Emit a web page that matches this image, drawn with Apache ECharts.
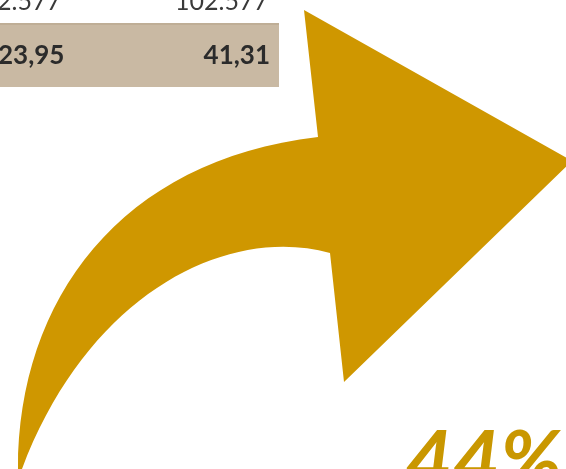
<!DOCTYPE html>
<html>
<head>
<meta charset="utf-8">
<script src="https://cdn.jsdelivr.net/npm/echarts@6/dist/echarts.min.js"></script>
<style>html,body{margin:0;padding:0;background:#fff}#c{width:566px;height:469px}</style>
</head>
<body>
<div id="c"></div>
<script>
// Table fragment values
const rowTopValues = ['2.577', '102.577'];
const rowTotalValues = ['23,95', '41,31'];
const headline = '44%';

const chart = echarts.init(document.getElementById('c'), null, {renderer: 'canvas'});
const gold = '#CF9700';
const arrowPath = 'M18 469 C18 300 120 160 318 137 L304 10 L572 161 L344 382 L330 253 C230 225 90 290 22 469 Z';
const option = {
  backgroundColor: '#ffffff',
  animation: false,
  graphic: [
    {type: 'rect', shape: {x: 0, y: 23, width: 279, height: 64}, style: {fill: '#C9B9A3'}},
    {type: 'rect', shape: {x: 0, y: 23, width: 279, height: 2}, style: {fill: '#BFAE96'}},
    {type: 'text', x: -3, y: 14, style: {text: rowTopValues[0], font: '25px Lato', fill: '#3a3a3a', align: 'left', verticalAlign: 'bottom'}},
    {type: 'text', x: 268, y: 14, style: {text: rowTopValues[1], font: '25px Lato', fill: '#3a3a3a', align: 'right', verticalAlign: 'bottom'}},
    {type: 'text', x: -2, y: 56, style: {text: rowTotalValues[0], font: 'bold 26px Lato', fill: '#2b2b2b', align: 'left', verticalAlign: 'middle'}},
    {type: 'text', x: 270, y: 56, style: {text: rowTotalValues[1], font: 'bold 26px Lato', fill: '#2b2b2b', align: 'right', verticalAlign: 'middle'}},
    {type: 'text', x: 405, y: 423, z: 10, style: {text: headline, font: 'italic bold 82px Lato', fill: '#C99700', align: 'left', verticalAlign: 'top'}}
  ],
  series: [{
    type: 'custom',
    coordinateSystem: 'none',
    data: [[0]],
    renderItem: function () {
      return {type: 'path', shape: {pathData: arrowPath}, style: {fill: gold}};
    }
  }]
};
chart.setOption(option);
</script>
</body>
</html>
